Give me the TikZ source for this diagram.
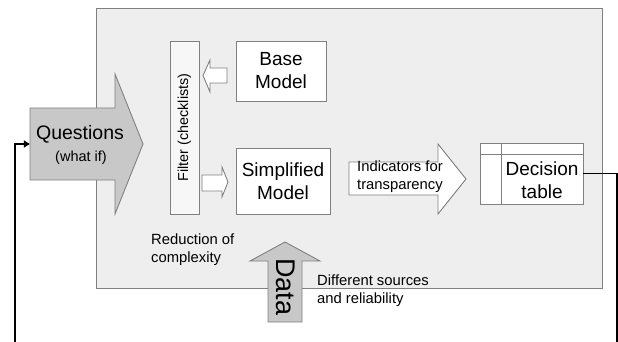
\documentclass[tikz,border=0pt]{standalone}
\usepackage{fontspec}
\setmainfont{Liberation Sans}
\usetikzlibrary{arrows.meta}
\definecolor{panelfill}{HTML}{EEEEEE}
\definecolor{edge}{HTML}{808080}
\definecolor{blockfill}{HTML}{C8C8C8}
\begin{document}
\begin{tikzpicture}[x=1pt,y=1pt,
  outline/.style={draw=edge,line width=0.9pt},
  whitebox/.style={outline,fill=white},
  greyblock/.style={outline,fill=blockfill},
  bigtxt/.style={font=\fontsize{19}{23}\selectfont,align=center,inner sep=0pt},
  smalltxt/.style={font=\fontsize{14.8}{18}\selectfont,align=left,inner sep=0pt},
  feedback/.style={line width=1.8pt,black},
]
\useasboundingbox (0,0) rectangle (618,-342);

% background panel
\draw[outline,fill=panelfill] (96,-8) rectangle (602,-288);

% Questions block arrow
\draw[greyblock] (30,-108) -- (115,-108) -- (115,-74) -- (143,-144)
  -- (115,-214) -- (115,-180) -- (30,-180) -- cycle;
\node[minimum width=85pt,minimum height=72pt,inner sep=0pt] (qbody) at (72.5,-144) {};
\node[font=\fontsize{19.5}{23}\selectfont,inner sep=0pt] (qtxt) at (80,-134) {Questions};
\node[font=\fontsize{14.5}{17}\selectfont,inner sep=0pt] (qsub) at (81,-158) {(what if)};

% filter column
\node[outline,fill=white!97!black,minimum width=29pt,minimum height=173pt,inner sep=0pt] (filter) at (184.5,-127.5) {};
\node[font=\fontsize{14.4}{17}\selectfont,rotate=90,inner sep=0pt] (filtertxt) at (filter.center) {Filter (checklists)};

% models
\node[whitebox,minimum width=90pt,minimum height=60pt,inner sep=0pt] (base) at (281,-71) {};
\node[bigtxt] (basetxt) at (base.center) {Base\\Model};
\node[whitebox,minimum width=94pt,minimum height=66pt,inner sep=0pt] (simp) at (283,-181) {};
\node[bigtxt] (simptxt) at (simp.center) {Simplified\\Model};

% small hollow arrows
\draw[whitebox] (227,-68) -- (210,-68) -- (210,-60) -- (203,-75.5)
  -- (210,-92) -- (210,-83) -- (227,-83) -- cycle;
\draw[whitebox] (202,-175) -- (222,-175) -- (222,-167) -- (228,-182)
  -- (222,-197) -- (222,-191) -- (202,-191) -- cycle;

% indicators arrow
\draw[whitebox] (349,-162) -- (438,-162) -- (438,-144) -- (466,-179)
  -- (438,-214) -- (438,-195) -- (349,-195) -- cycle;
\node[smalltxt,anchor=west] (indtxt) at (357,-177) {Indicators for\\transparency};

% decision table
\node[whitebox,minimum width=103pt,minimum height=61pt,inner sep=0pt] (dt) at (531.5,-173.5) {};
\draw[outline] (501,-143) -- (501,-204);
\draw[outline] (480,-154) -- (583,-154);
\node[bigtxt] (dttxt) at (542,-180) {Decision\\table};

% data arrow
\draw[greyblock] (268,-322) -- (268,-261) -- (250,-261) -- (285,-242)
  -- (320,-261) -- (302,-261) -- (302,-322) -- cycle;
\node[font=\fontsize{27}{30}\selectfont,rotate=-90,inner sep=0pt] (datatxt) at (286,-287) {Data};

% side notes
\node[smalltxt,anchor=west] (redtxt) at (151,-250) {Reduction of\\complexity};
\node[smalltxt,anchor=west] (srctxt) at (317,-291) {Different sources\\and reliability};

% feedback loop
\coordinate (fbR) at (617,-342);
\coordinate (fbL) at (15,-342);
\draw[feedback] (dt.east) -| (fbR);
\draw[feedback,-{Triangle[length=6pt,width=7pt]}] (fbL) |- (qbody.west);
\end{tikzpicture}
\end{document}
